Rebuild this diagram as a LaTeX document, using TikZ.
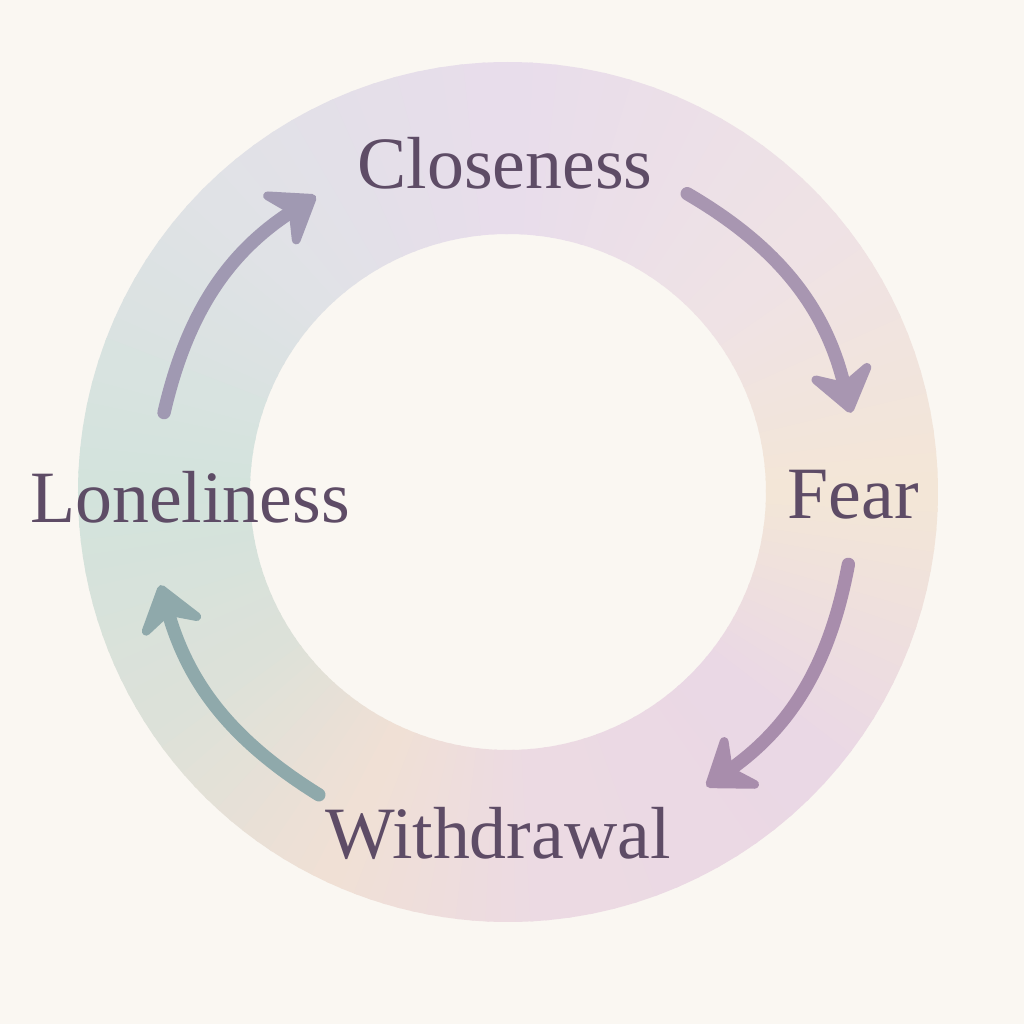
\documentclass[tikz,border=0pt]{standalone}
\usepackage{xcolor}
\usepackage{fontspec}
\setmainfont{Liberation Serif}
\usepackage{tikz}
\usetikzlibrary{arrows.meta,positioning,calc}

\definecolor{paper}{HTML}{FAF7F2}
\definecolor{ink}{HTML}{5E4C66}
\definecolor{rpeach}{HTML}{F3E6D7}
\definecolor{rtrans}{HTML}{EFE2E5}
\definecolor{rlav}{HTML}{E8DDEB}
\definecolor{rgrey}{HTML}{E0E2E6}
\definecolor{rteal}{HTML}{D3E3DC}
\definecolor{rsage}{HTML}{DCE1D9}
\definecolor{rsand}{HTML}{F0E0D5}
\definecolor{rpink}{HTML}{ECDAE3}
\definecolor{rmauve}{HTML}{EAD8E5}
\definecolor{apurple}{HTML}{A896B1}
\definecolor{amauve}{HTML}{A88DAC}
\definecolor{ateal}{HTML}{8FA9AB}
\definecolor{amix}{HTML}{A099B2}

\begin{document}
\begin{tikzpicture}[
  font=\fontsize{21}{25}\selectfont,
  lbl/.style={text=ink, inner sep=1pt},
  arr/.style={-{Stealth[length=5.5mm, width=8mm, inset=2mm, round]},
              line width=3.8pt, line cap=round}]
\fill[paper] (-5.08,-5.32) rectangle (5.16,4.92);
\useasboundingbox (-5.08,-5.32) rectangle (5.16,4.92);
\def\ro{4.30}
\def\ri{2.58}
% ---- watercolour ring ----
\foreach \sa/\ea/\ca/\cb in {0/40/rpeach/rtrans, 40/90/rtrans/rlav,
    90/135/rlav/rgrey, 135/180/rgrey/rteal, 180/212/rteal/rsage,
    212/245/rsage/rsand, 245/275/rsand/rpink, 275/320/rpink/rmauve,
    320/360/rmauve/rpeach}{
  \foreach \i in {0,...,14}{
    \pgfmathsetmacro\aa{\sa+(\ea-\sa)*\i/15}
    \pgfmathsetmacro\ab{\sa+(\ea-\sa)*(\i+1)/15+0.5}
    \pgfmathtruncatemacro\pp{100*\i/14}
    \fill[\cb!\pp!\ca] (\aa:\ro) arc[start angle=\aa, end angle=\ab, radius=\ro]
      -- (\ab:\ri) arc[start angle=\ab, end angle=\aa, radius=\ri] -- cycle;
  }
}
% ---- labels ----
\node[lbl] (close) at (-0.03,3.29) {Closeness};
\node[lbl] (fear) at (3.45,-0.03) {Fear};
\node[lbl] (lone) at (-3.18,-0.05) {Loneliness};
\node[lbl] (withd) at (-0.10,-3.41) {Withdrawal};
% ---- arrow ends ----
\coordinate (s1) at (167:3.53);
\coordinate (e1) at (123:3.53);
\coordinate (s2) at (59:3.48);
\coordinate (e2) at (13:3.52);
\coordinate (s3) at (-12:3.48);
\coordinate (e3) at (-56:3.55);
\coordinate (s4) at (238:3.57);
\coordinate (e4) at (195:3.60);
\draw[arr, amix] (s1) to[bend left=22] (e1);
\draw[arr, apurple] (s2) to[bend left=23] (e2);
\draw[arr, amauve] (s3) to[bend left=22] (e3);
\draw[arr, ateal] (s4) to[bend left=21] (e4);
\end{tikzpicture}
\end{document}
